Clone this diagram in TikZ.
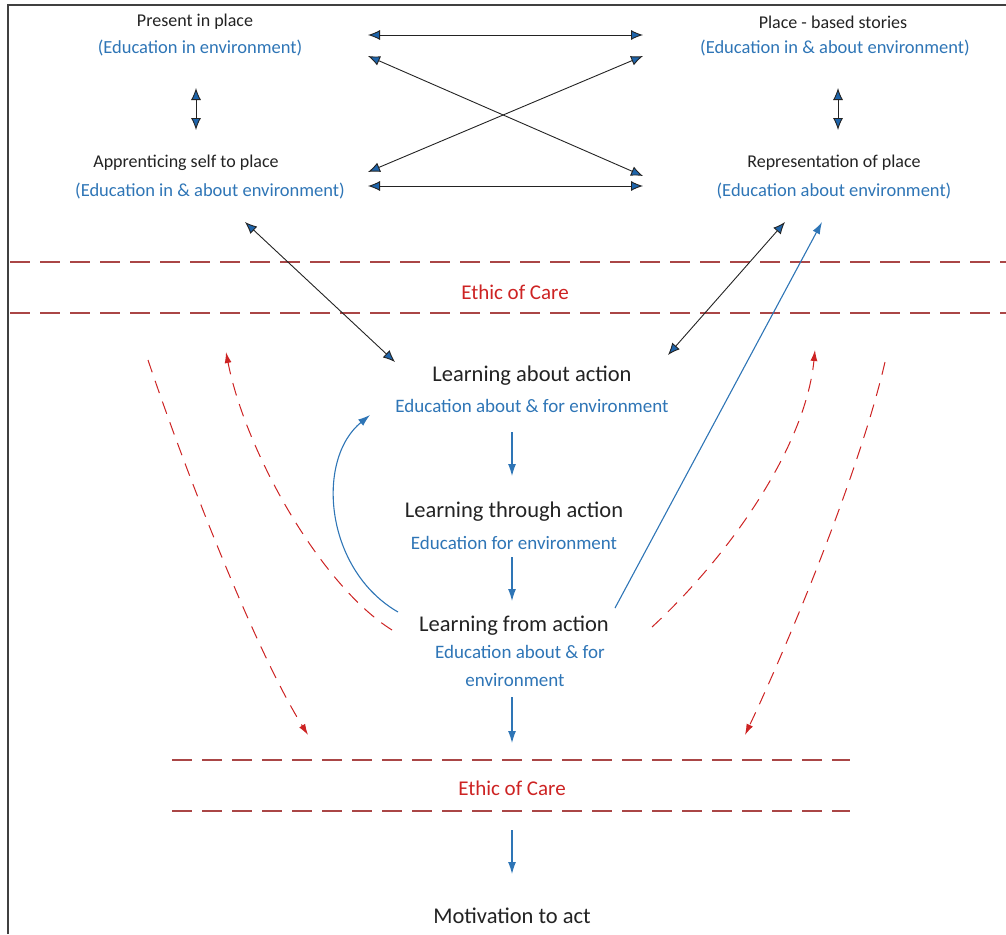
\documentclass[tikz,border=0pt]{standalone}
\usepackage{fontspec}
\setmainfont{Carlito}
\usetikzlibrary{arrows.meta}

\definecolor{txtgray}{RGB}{35,35,35}
\definecolor{edublue}{RGB}{46,117,182}
\definecolor{tipblue}{RGB}{30,100,170}
\definecolor{carered}{RGB}{205,35,35}
\definecolor{ethicred}{RGB}{170,70,70}

\begin{document}
\begin{tikzpicture}[x=1pt,y=1pt,
	place/.style={text=txtgray,font=\fontsize{18}{21}\selectfont,inner sep=1pt},
	placesub/.style={text=edublue,font=\fontsize{18.5}{21}\selectfont,inner sep=1pt},
	learn/.style={text=txtgray,font=\fontsize{22.5}{26}\selectfont,inner sep=1pt},
	learnsub/.style={text=edublue,font=\fontsize{19}{22}\selectfont,inner sep=1pt},
	care/.style={text=carered,font=\fontsize{21}{24}\selectfont,inner sep=1pt},
	link/.style={draw=txtgray,line width=0.9pt,{Latex[length=12pt,width=10pt,fill=tipblue]}-{Latex[length=12pt,width=10pt,fill=tipblue]}},
	flow/.style={draw=edublue,line width=1.1pt,-{Latex[length=12pt,width=8pt]}},
	loop/.style={draw=carered,line width=1pt,dash pattern=on 13pt off 9pt,-{Latex[length=11pt,width=7pt]}},
	ethicline/.style={draw=ethicred,line width=1.8pt,dash pattern=on 20pt off 10pt}]
	\useasboundingbox (0,0) rectangle (1006,-934);
	% frame
	\draw [line width=1.5pt,black!75] (8,-934) -- (8,-5) -- (1006,-5);

	% place boxes
	\node [place] (present) at (195,-22) {Present in place};
	\node [placesub] (presentsub) at (200,-48) {(Education in environment)};
	\node [place] (apprentice) at (186,-163) {Apprenticing self to place};
	\node [placesub] (apprenticesub) at (210,-191) {(Education in \& about environment)};
	\node [place] (stories) at (833,-22) {Place - based stories};
	\node [placesub] (storiessub) at (835,-48) {(Education in \& about environment)};
	\node [place] (repr) at (834,-163) {Representation of place};
	\node [placesub] (reprsub) at (834,-191) {(Education about environment)};

	% arrow ends
	\coordinate (pr1) at (368,-35);
	\coordinate (pr2) at (368,-56);
	\coordinate (ap1) at (368,-172);
	\coordinate (ap2) at (368,-186);
	\coordinate (st1) at (643,-35);
	\coordinate (st2) at (643,-56);
	\coordinate (re1) at (643,-176);
	\coordinate (re2) at (643,-186);
	\coordinate (leftup) at (196,-88);
	\coordinate (leftdown) at (196,-130);
	\coordinate (rightup) at (838,-88);
	\coordinate (rightdown) at (838,-130);

	\draw [link] (pr1) -- (st1);
	\draw [link] (pr2) -- (re1);
	\draw [link] (ap1) -- (st2);
	\draw [link] (ap2) -- (re2);
	\draw [link] (leftup) -- (leftdown);
	\draw [link] (rightup) -- (rightdown);

	% ethic of care, top
	\draw [ethicline] (10,-262) -- (1006,-262);
	\draw [ethicline] (10,-313) -- (1006,-313);
	\node [care] (care1) at (515,-292) {Ethic of Care};

	% learning steps
	\node [learn] (about) at (532,-376) {Learning about action};
	\node [learnsub] (aboutsub) at (532,-406) {Education about \& for environment};
	\node [learn] (through) at (514,-512) {Learning through action};
	\node [learnsub] (throughsub) at (514,-543) {Education for environment};
	\node [learn] (from) at (514,-626) {Learning from action};
	\node [learnsub] (fromsub) at (520,-652) {Education about \& for};
	\node [learnsub] (fromsub2) at (515,-680) {environment};

	\coordinate (ap3) at (245,-222);
	\coordinate (ab1) at (395,-362);
	\coordinate (re3) at (785,-222);
	\coordinate (ab2) at (668,-355);
	\coordinate (re4) at (822,-222);
	\coordinate (fr1) at (615,-608);
	\draw [link] (ap3) -- (ab1);
	\draw [link] (re3) -- (ab2);
	\draw [flow] (fr1) -- (re4);

	\draw [flow] (512,-432) -- (512,-476);
	\draw [flow] (512,-557) -- (512,-601);
	\draw [flow] (512,-697) -- (512,-743);
	\draw [flow] (398,-612) .. controls (325,-570) and (315,-460) .. (370,-415);

	% loops
	\draw [loop] (148,-360) .. controls (185,-470) and (255,-650) .. (308,-735);
	\draw [loop] (392,-630) .. controls (320,-585) and (245,-450) .. (226,-352);
	\draw [loop] (652,-627) .. controls (725,-560) and (805,-450) .. (815,-350);
	\draw [loop] (885,-362) .. controls (860,-470) and (790,-640) .. (745,-735);

	% ethic of care, bottom
	\draw [ethicline] (172,-760) -- (850,-760);
	\draw [ethicline] (172,-811) -- (850,-811);
	\node [care] (care2) at (512,-788) {Ethic of Care};

	\draw [flow] (512,-830) -- (512,-874);
	\node [learn] (motivation) at (512,-916) {Motivation to act};
\end{tikzpicture}
\end{document}
